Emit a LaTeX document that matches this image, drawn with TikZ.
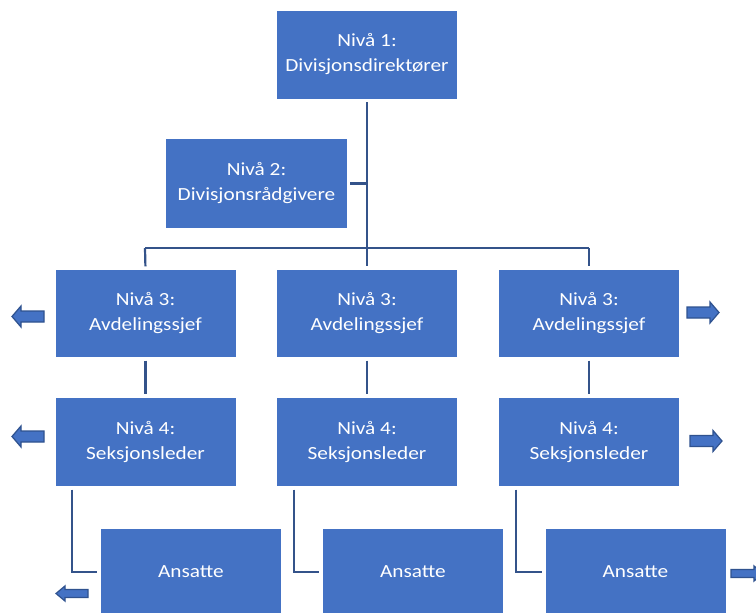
\documentclass[tikz,border=0pt]{standalone}
\usepackage{fontspec}
\setmainfont{Carlito}[FakeStretch=1.15]
\definecolor{boxblue}{HTML}{4472C4}
\definecolor{lineblue}{HTML}{34538A}
\definecolor{arrowline}{HTML}{2F528F}
\begin{document}
\begin{tikzpicture}[x=1pt,y=-1pt,
  orgbox/.style={fill=boxblue,draw=none,text=white,align=center,inner sep=0pt,
    minimum width=180pt,minimum height=87pt,font=\fontsize{18.5}{25}\selectfont},
  wire/.style={draw=lineblue,line width=2.2pt},
  conn/.style={wire,shorten <=3.5pt,shorten >=3.5pt},
  arrowst/.style={fill=boxblue,draw=arrowline,line width=1.2pt,line join=miter},
  blockarrow/.pic={\draw[arrowst] (0,0) -- (9,-10.5) -- (9,-5.5) -- (32,-5.5) -- (32,5.5) -- (9,5.5) -- (9,10.5) -- cycle;}
]
\useasboundingbox (0,0) rectangle (756,613);
\fill[white] (0,0) rectangle (756,613);

\node[orgbox,minimum height=88pt] (n1) at (367,54.5) {Nivå 1:\\Divisjonsdirektører};
\node[orgbox,minimum width=181pt,minimum height=89pt] (n2) at (256.5,183.5) {Nivå 2:\\Divisjonsrådgivere};

\node[orgbox] (l3a) at (145.5,313.5) {Nivå 3:\\Avdelingssjef};
\node[orgbox] (l3b) at (367,313.5) {Nivå 3:\\Avdelingssjef};
\node[orgbox] (l3c) at (589,313.5) {Nivå 3:\\Avdelingssjef};

\node[orgbox,minimum height=88pt] (l4a) at (145.5,442) {Nivå 4:\\Seksjonsleder};
\node[orgbox,minimum height=88pt] (l4b) at (367,442) {Nivå 4:\\Seksjonsleder};
\node[orgbox,minimum height=88pt] (l4c) at (589,442) {Nivå 4:\\Seksjonsleder};

\node[orgbox,minimum height=86pt] (a1) at (191,572) {Ansatte};
\node[orgbox,minimum height=86pt] (a2) at (413,572) {Ansatte};
\node[orgbox,minimum height=86pt] (a3) at (635.5,572) {Ansatte};

% trunk
\coordinate (bar) at (367,248);
\coordinate (barL) at (145,248);
\coordinate (barR) at (589,248);
\draw[wire,shorten <=3.5pt] (n1.south) -- (bar);
\draw[wire,shorten <=3pt] (n2.east) -- (n2.east -| bar);
\draw[wire] (barL) -- (barR);
\draw[wire,shorten >=3.5pt] (barL) -- (l3a.north);
\draw[wire,shorten >=3.5pt] (bar) -- (l3b.north);
\draw[wire,shorten >=3.5pt] (barR) -- (l3c.north);

\draw[conn] (l3a.south) -- (l4a.north);
\draw[conn] (l3b.south) -- (l4b.north);
\draw[conn] (l3c.south) -- (l4c.north);

\draw[conn] ([xshift=17pt]l4a.south west) |- (a1.west);
\draw[conn] ([xshift=17pt]l4b.south west) |- (a2.west);
\draw[conn] ([xshift=17pt]l4c.south west) |- (a3.west);

% side arrows
\pic at (12,316.5) {blockarrow};
\pic at (12,436.5) {blockarrow};
\pic[yscale=0.72] at (56,593.5) {blockarrow};
\pic[xscale=-1] at (719,312.5) {blockarrow};
\pic[xscale=-1] at (722,441) {blockarrow};
\pic[xscale=-1,yscale=0.72] at (763,573.5) {blockarrow};
\end{tikzpicture}
\end{document}
